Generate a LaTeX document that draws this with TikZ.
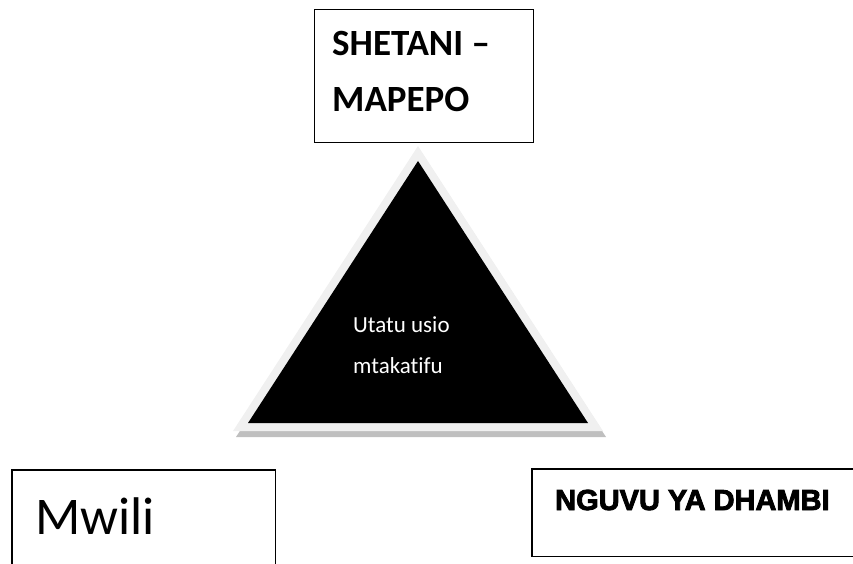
\documentclass[tikz,border=0pt]{standalone}
\usepackage{fontspec}
\setmainfont{Carlito}[Ligatures=NoCommon]
\newfontfamily\heavyfont{Liberation Sans}[FakeBold=3]
\usetikzlibrary{positioning,calc}
\definecolor{rimgray}{HTML}{F0F0F0}
\definecolor{shadegray}{HTML}{BFBFBF}
\tikzset{
  box/.style={draw, line width=1.1pt, anchor=north west, inner sep=0pt},
  openbox/.style={anchor=north west, inner sep=0pt},
  txt/.style={anchor=base west, inner sep=0pt},
}

\begin{document}
\begin{tikzpicture}[x=1pt,y=-1pt]
  \useasboundingbox (0,0) rectangle (853,564);
  %\draw[lightgray] (0,0) grid[step=50] (853,564);
  % boxes
  \node[box, minimum width=219pt, minimum height=133pt] (shetani) at (314,9) {};
  \node[openbox, minimum width=263pt, minimum height=95pt] (mwilibox) at (12,470) {};
  \draw[line width=1.1pt] (mwilibox.south west) -- (mwilibox.north west)
    -- (mwilibox.north east) -- (mwilibox.south east);
  \node[openbox, minimum width=322pt, minimum height=87pt] (nguvubox) at (532,469) {};
  \draw[line width=1.1pt] (nguvubox.north east) -- (nguvubox.north west)
    -- (nguvubox.south west) -- (nguvubox.south east);
  % triangle with rim and shadow
  \coordinate (apex) at (418,161);
  \coordinate (bl) at (248,423);
  \coordinate (br) at (588,423);
  \fill[shadegray] (421,152) -- (236,437) -- (606,437) -- cycle;
  \fill[rimgray] (418,146) -- (233,431) -- (603,431) -- cycle;
  \fill[black] (apex) -- (bl) -- (br) -- cycle;
  % texts
  \node[txt, font=\bfseries\fontsize{37}{40}\selectfont] (shetaniA) at (332,56) {SHETANI –};
  \node[txt, font=\bfseries\fontsize{37}{40}\selectfont] (shetaniB) at (332,112) {MAPEPO};
  \node[txt, text=white, font=\fontsize{23}{28}\selectfont] (utatuA) at (353,332) {Utatu usio};
  \node[txt, text=white, font=\fontsize{23}{28}\selectfont] (utatuB) at (353,373) {mtakatifu};
  \node[txt, font=\fontsize{53}{60}\selectfont] (mwili) at (35,534) {Mwili};
  \node[txt, font=\heavyfont\bfseries\fontsize{29}{32}\selectfont] (nguvu) at (555,510) {NGUVU YA DHAMBI};
\end{tikzpicture}
\end{document}
